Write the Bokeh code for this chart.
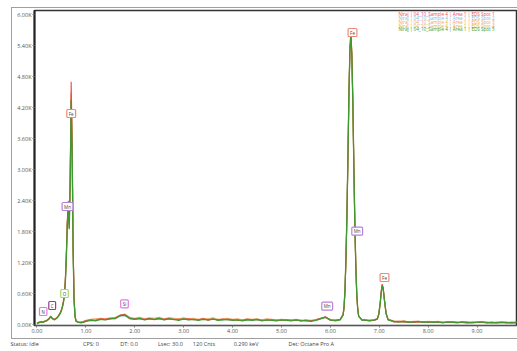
from bokeh.plotting import figure
from bokeh.models import Label, FixedTicker, Range1d, Title
from bokeh.embed import file_html
from bokeh.resources import INLINE

# ---------------- data (counts in thousands) ----------------
energy_kev = [
    0.00, 0.04, 0.08, 0.12, 0.16, 0.20, 0.24, 0.28, 0.32, 0.36, 0.40, 0.42, 0.44, 0.46, 0.48, 0.50, 0.52,
    0.54, 0.56, 0.58, 0.60, 0.62, 0.64, 0.66, 0.68, 0.70, 0.72, 0.74, 0.76, 0.78, 0.80, 0.85, 0.90, 0.95,
    1.0, 1.1, 1.2, 1.3, 1.4, 1.5, 1.6, 1.7, 1.8, 1.9, 2.0, 2.1, 2.2, 2.3, 2.4, 2.5, 2.6, 2.7, 2.8, 2.9,
    3.0, 3.1, 3.2, 3.3, 3.4, 3.5, 3.6, 3.7, 3.8, 3.9, 4.0, 4.1, 4.2, 4.3, 4.4, 4.5, 4.6, 4.7, 4.8, 4.9,
    5.0, 5.1, 5.2, 5.3, 5.4, 5.5, 5.6, 5.7, 5.8, 5.9, 6.0, 6.1, 6.2,
    6.26, 6.28, 6.30, 6.32, 6.34, 6.36, 6.38, 6.40, 6.42, 6.44, 6.46, 6.48, 6.50, 6.52, 6.54, 6.56, 6.58,
    6.65, 6.70, 6.80, 6.90,
    6.96, 6.99, 7.02, 7.04, 7.06, 7.08, 7.11, 7.14, 7.18,
    7.3, 7.4, 7.5, 7.6, 7.7, 7.8, 7.9, 8.0, 8.1, 8.2, 8.3, 8.4, 8.5, 8.6, 8.7, 8.8, 8.9, 9.0, 9.1, 9.2,
    9.3, 9.4, 9.5, 9.6, 9.7, 9.8,
]

spot1 = [  # red
    0.03, 0.04, 0.06, 0.05, 0.07, 0.09, 0.12, 0.17, 0.12, 0.11, 0.13, 0.15, 0.18, 0.21, 0.24, 0.29, 0.36,
    0.45, 0.60, 0.88, 1.35, 2.00, 2.40, 1.95, 2.90, 4.70, 3.55, 1.50, 0.50, 0.17, 0.08, 0.05, 0.05, 0.06,
    0.08, 0.10, 0.09, 0.12, 0.11, 0.13, 0.12, 0.19, 0.20, 0.12, 0.12, 0.12, 0.11, 0.13, 0.10, 0.12, 0.11,
    0.13, 0.10, 0.11, 0.11, 0.12, 0.10, 0.10, 0.12, 0.09, 0.11, 0.10, 0.11, 0.10, 0.10, 0.09, 0.09, 0.11,
    0.10, 0.10, 0.09, 0.09, 0.10, 0.09, 0.09, 0.10, 0.09, 0.09, 0.09, 0.08, 0.08, 0.10, 0.13, 0.16, 0.09,
    0.09, 0.11,
    0.19, 0.33, 0.68, 1.30, 2.15, 3.25, 4.45, 5.35, 5.68, 5.25, 4.35, 3.15, 2.05, 1.18, 0.62, 0.31, 0.17,
    0.10, 0.09, 0.09, 0.09,
    0.11, 0.21, 0.44, 0.65, 0.79, 0.72, 0.46, 0.23, 0.11,
    0.06, 0.07, 0.06, 0.06, 0.05, 0.06, 0.06, 0.05, 0.06, 0.05, 0.05, 0.05, 0.06, 0.05, 0.05, 0.04, 0.05,
    0.05, 0.05, 0.05, 0.04, 0.05, 0.05, 0.05, 0.04, 0.05,
]

spot2 = [  # blue
    0.03, 0.05, 0.06, 0.06, 0.07, 0.08, 0.11, 0.15, 0.12, 0.10, 0.13, 0.15, 0.17, 0.20, 0.23, 0.28, 0.35,
    0.43, 0.56, 0.82, 1.28, 1.92, 2.28, 1.88, 2.75, 4.40, 3.35, 1.42, 0.46, 0.15, 0.08, 0.05, 0.05, 0.05,
    0.08, 0.09, 0.09, 0.11, 0.10, 0.12, 0.12, 0.17, 0.18, 0.12, 0.11, 0.12, 0.10, 0.12, 0.11, 0.12, 0.10,
    0.12, 0.11, 0.10, 0.11, 0.10, 0.11, 0.10, 0.11, 0.10, 0.11, 0.10, 0.10, 0.10, 0.09, 0.10, 0.09, 0.10,
    0.09, 0.10, 0.09, 0.10, 0.09, 0.09, 0.09, 0.09, 0.09, 0.09, 0.08, 0.09, 0.08, 0.09, 0.12, 0.14, 0.09,
    0.09, 0.10,
    0.18, 0.32, 0.66, 1.28, 2.12, 3.22, 4.40, 5.28, 5.58, 5.18, 4.28, 3.08, 1.98, 1.14, 0.59, 0.30, 0.16,
    0.09, 0.09, 0.08, 0.09,
    0.11, 0.20, 0.42, 0.62, 0.76, 0.70, 0.44, 0.22, 0.10,
    0.06, 0.06, 0.06, 0.05, 0.06, 0.06, 0.05, 0.06, 0.05, 0.05, 0.05, 0.05, 0.05, 0.05, 0.05, 0.04, 0.05,
    0.05, 0.05, 0.04, 0.05, 0.04, 0.05, 0.04, 0.04, 0.04,
]

spot3 = [  # orange
    0.04, 0.05, 0.07, 0.06, 0.08, 0.09, 0.12, 0.15, 0.13, 0.11, 0.14, 0.16, 0.18, 0.22, 0.25, 0.30, 0.37,
    0.44, 0.58, 0.84, 1.30, 1.95, 2.32, 1.90, 2.80, 4.45, 3.40, 1.45, 0.48, 0.16, 0.09, 0.06, 0.06, 0.07,
    0.09, 0.11, 0.12, 0.13, 0.12, 0.14, 0.15, 0.19, 0.21, 0.15, 0.13, 0.15, 0.12, 0.14, 0.13, 0.15, 0.12,
    0.14, 0.13, 0.12, 0.14, 0.12, 0.13, 0.11, 0.13, 0.12, 0.14, 0.11, 0.12, 0.13, 0.11, 0.12, 0.10, 0.12,
    0.11, 0.12, 0.10, 0.12, 0.11, 0.10, 0.11, 0.10, 0.10, 0.11, 0.09, 0.10, 0.09, 0.10, 0.13, 0.15, 0.11,
    0.10, 0.11,
    0.20, 0.34, 0.70, 1.30, 2.20, 3.30, 4.50, 5.30, 5.58, 5.15, 4.25, 3.05, 1.95, 1.12, 0.58, 0.29, 0.16,
    0.10, 0.10, 0.09, 0.10,
    0.13, 0.21, 0.43, 0.63, 0.77, 0.71, 0.45, 0.22, 0.11,
    0.08, 0.07, 0.08, 0.06, 0.07, 0.07, 0.06, 0.07, 0.06, 0.07, 0.05, 0.06, 0.06, 0.05, 0.06, 0.06, 0.05,
    0.06, 0.06, 0.05, 0.05, 0.05, 0.06, 0.05, 0.05, 0.06,
]

spot4 = [  # yellow
    0.04, 0.05, 0.06, 0.05, 0.07, 0.08, 0.11, 0.16, 0.12, 0.10, 0.13, 0.15, 0.17, 0.21, 0.24, 0.29, 0.35,
    0.44, 0.57, 0.83, 1.30, 1.94, 2.30, 1.90, 2.78, 4.50, 3.40, 1.44, 0.47, 0.16, 0.08, 0.05, 0.05, 0.06,
    0.08, 0.10, 0.09, 0.12, 0.11, 0.12, 0.13, 0.18, 0.19, 0.13, 0.12, 0.13, 0.11, 0.12, 0.12, 0.13, 0.11,
    0.12, 0.11, 0.11, 0.12, 0.11, 0.11, 0.10, 0.12, 0.10, 0.11, 0.10, 0.11, 0.11, 0.10, 0.10, 0.09, 0.11,
    0.10, 0.11, 0.09, 0.10, 0.10, 0.09, 0.10, 0.09, 0.09, 0.10, 0.08, 0.09, 0.08, 0.09, 0.12, 0.15, 0.10,
    0.09, 0.10,
    0.19, 0.33, 0.68, 1.32, 2.18, 3.28, 4.46, 5.30, 5.60, 5.20, 4.30, 3.10, 2.00, 1.16, 0.60, 0.30, 0.16,
    0.10, 0.09, 0.09, 0.09,
    0.12, 0.21, 0.43, 0.64, 0.78, 0.71, 0.45, 0.22, 0.11,
    0.07, 0.06, 0.07, 0.06, 0.06, 0.06, 0.06, 0.06, 0.05, 0.06, 0.05, 0.05, 0.05, 0.05, 0.05, 0.05, 0.05,
    0.05, 0.05, 0.05, 0.05, 0.04, 0.05, 0.05, 0.04, 0.05,
]

spot5 = [  # green
    0.03, 0.05, 0.06, 0.05, 0.07, 0.08, 0.11, 0.16, 0.12, 0.10, 0.13, 0.15, 0.17, 0.20, 0.23, 0.28, 0.34,
    0.42, 0.55, 0.80, 1.25, 1.90, 2.30, 1.85, 2.70, 4.35, 3.30, 1.40, 0.45, 0.15, 0.07, 0.05, 0.04, 0.05,
    0.07, 0.09, 0.08, 0.11, 0.10, 0.12, 0.13, 0.18, 0.19, 0.13, 0.11, 0.13, 0.10, 0.12, 0.11, 0.13, 0.10,
    0.12, 0.11, 0.09, 0.12, 0.10, 0.11, 0.09, 0.11, 0.10, 0.12, 0.09, 0.10, 0.11, 0.09, 0.10, 0.08, 0.10,
    0.09, 0.11, 0.08, 0.10, 0.09, 0.08, 0.10, 0.09, 0.08, 0.10, 0.08, 0.09, 0.07, 0.09, 0.12, 0.15, 0.10,
    0.08, 0.10,
    0.20, 0.35, 0.70, 1.35, 2.20, 3.30, 4.50, 5.30, 5.62, 5.20, 4.30, 3.10, 2.00, 1.15, 0.60, 0.30, 0.17,
    0.09, 0.10, 0.08, 0.10,
    0.12, 0.20, 0.42, 0.62, 0.76, 0.70, 0.45, 0.22, 0.10,
    0.07, 0.06, 0.07, 0.05, 0.06, 0.07, 0.05, 0.06, 0.05, 0.06, 0.04, 0.06, 0.05, 0.04, 0.06, 0.05, 0.04,
    0.05, 0.06, 0.04, 0.05, 0.04, 0.05, 0.04, 0.05, 0.04,
]

series_names = [
    "Niraj | 04_10_Sample 4 | Area 1 | EDS Spot 1",
    "Niraj | 04_10_Sample 4 | Area 1 | EDS Spot 2",
    "Niraj | 04_10_Sample 4 | Area 1 | EDS Spot 3",
    "Niraj | 04_10_Sample 4 | Area 1 | EDS Spot 4",
    "Niraj | 04_10_Sample 4 | Area 1 | EDS Spot 5",
]
series_values = [spot1, spot2, spot3, spot4, spot5]
series_colors = ["#ee4a50", "#7fbbd8", "#f5a063", "#d9b43c", "#3e9a2e"]
series_widths = [1.1, 1.1, 1.1, 1.1, 1.3]
draw_order = [1, 3, 2, 0, 4]

for s in series_values:
    assert len(s) == len(energy_kev), (len(s), len(energy_kev))

x_ticks = [0, 1, 2, 3, 4, 5, 6, 7, 8, 9]
x_tick_labels = ["0.00", "1.00", "2.00", "3.00", "4.00", "5.00", "6.00", "7.00", "8.00", "9.00"]
y_ticks = [0.0, 0.6, 1.2, 1.8, 2.4, 3.0, 3.6, 4.2, 4.8, 5.4, 6.0]
y_tick_labels = ["0.00K", "0.60K", "1.20K", "1.80K", "2.40K", "3.00K", "3.60K", "4.20K", "4.80K", "5.40K", "6.00K"]

element_names = ["N", "C", "O", "Mn", "Fe", "Si", "Mn", "Fe", "Mn", "Fe"]
element_colors = ["#e27ae0", "#8e3f9c", "#a6d86e", "#b683d6", "#f08a78",
                  "#e27ae0", "#b683d6", "#f08a78", "#b683d6", "#f08a78"]

status_texts = ["Status: Idle", "CPS: 0", "DT: 0.0", "Lsec: 30.0", "120 Cnts", "0.290 keV", "Det: Octane Pro A"]

# ---------------- layout (page pixel -> data) ----------------
W, H = 517, 351
BL, BR, BT, BB = 34, 0, 10, 26
XR = (-0.05, 9.827)
YR = (-0.01, 6.08)
FW, FH = W - BL - BR, H - BT - BB


def dx(px):
    return XR[0] + (px - BL) / FW * (XR[1] - XR[0])


def dy(py):
    return YR[1] - (py - BT) / FH * (YR[1] - YR[0])


FONT = "Open Sans"
GRAY = "#a0a0a0"
box_css = (f"linear-gradient({GRAY},{GRAY}) 11px 7px / 1px 332px no-repeat, "
           f"linear-gradient({GRAY},{GRAY}) 11px 7px / 506px 1px no-repeat, "
           f"linear-gradient({GRAY},{GRAY}) 11px 338px / 506px 1px no-repeat, white")

p = figure(width=W, height=H, x_range=Range1d(*XR), y_range=Range1d(*YR),
           output_backend="svg", toolbar_location=None,
           min_border_left=BL, min_border_right=BR, min_border_top=BT, min_border_bottom=BB)
p.styles = {"background": box_css}
p.xgrid.visible = False
p.ygrid.visible = False
p.background_fill_color = "white"
p.border_fill_color = None
p.outline_line_color = "#333333"
p.outline_line_width = 1.5

p.xaxis.ticker = FixedTicker(ticks=x_ticks)
p.xaxis.major_label_overrides = {t: l for t, l in zip(x_ticks, x_tick_labels)}
p.yaxis.ticker = FixedTicker(ticks=y_ticks)
p.yaxis.major_label_overrides = {t: l for t, l in zip(y_ticks, y_tick_labels)}
for ax in (p.xaxis, p.yaxis):
    ax.major_label_text_font = FONT
    ax.major_label_text_font_size = "5.5px"
    ax.major_label_text_color = "#555555"
    ax.minor_tick_line_color = None
    ax.major_tick_in = 0
    ax.major_tick_out = 2
    ax.major_tick_line_color = "#777777"
    ax.major_label_standoff = 1
p.yaxis.axis_line_width = 2
p.yaxis.axis_line_color = "#222222"
p.xaxis.axis_line_color = "#555555"

# status bar: one text line below the energy axis, items separated by fixed spaces
NB = "\u00a0"
status_gaps = [31, 15, 14, 7, 13, 21]
status_line = status_texts[0]
for gap, t in zip(status_gaps, status_texts[1:]):
    status_line += NB * gap + t
p.add_layout(Title(text=status_line, align="left", offset=-24, standoff=4,
                   text_font=FONT, text_font_size="5.5px", text_font_style="normal",
                   text_color="#444444"), "below")

for i in draw_order:
    p.line(energy_kev, series_values[i], line_color=series_colors[i], line_width=series_widths[i])

# element markers
elem_px = [(42.7, 311), (51.7, 305), (64, 293), (67, 206), (70.7, 113),
           (124, 303.3), (326.7, 305.7), (352, 32), (356.7, 230.7), (384, 277)]
for name, col, (px, py) in zip(element_names, element_colors, elem_px):
    p.add_layout(Label(x=dx(px), y=dy(py), text=name, text_align="center", text_baseline="middle",
                       text_font=FONT, text_font_size="4.5px", text_color="#444444",
                       border_line_color=col, border_line_width=1.2, background_fill_color="white",
                       padding=(2, 1), border_radius=1))

# legend texts
for k, (name, col) in enumerate(zip(series_names, series_colors)):
    p.add_layout(Label(x=dx(398), y=dy(13.3 + 3.9 * k), text=name, text_align="left",
                       text_baseline="middle", text_font=FONT, text_font_size="4.6px",
                       text_color=col))

open("out.html", "w").write(file_html(p, INLINE))
